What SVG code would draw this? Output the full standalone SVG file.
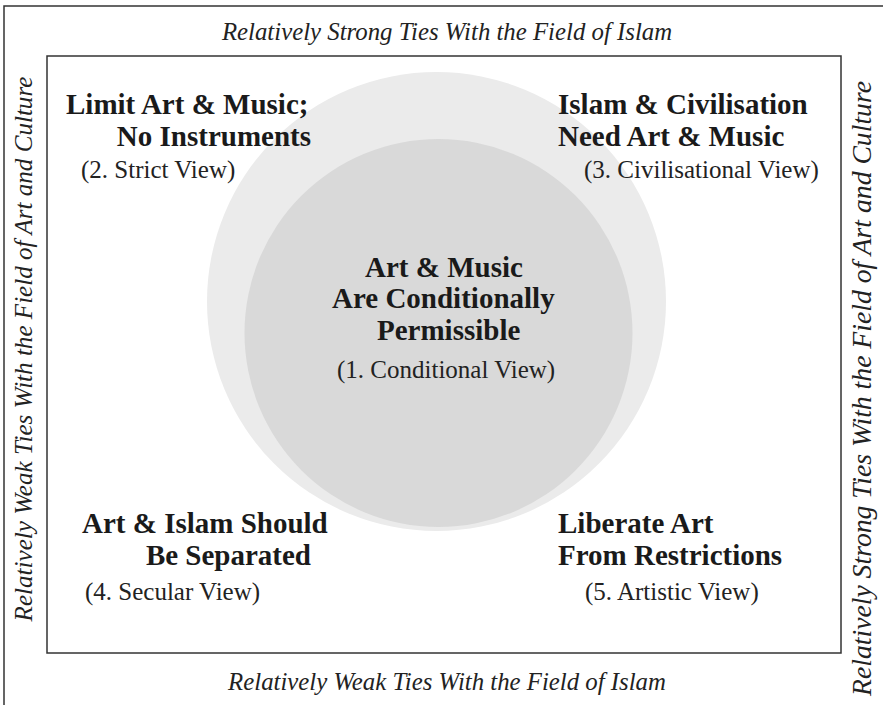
<svg xmlns="http://www.w3.org/2000/svg" width="883" height="705" viewBox="0 0 883 705">
  <style>
    .frame { fill: none; stroke: #333; stroke-width: 1.5; }
    .axis { font-family: "Liberation Serif", "Times New Roman", serif; font-style: italic; font-size: 24.8px; fill: #222; }
    .head { font-family: "Liberation Serif", "Times New Roman", serif; font-weight: bold; font-size: 29px; fill: #1a1a1a; }
    .sub { font-family: "Liberation Serif", "Times New Roman", serif; font-size: 25px; fill: #222; }
  </style>
  <rect width="883" height="705" fill="#fff"/>
  <!-- outer frame (only top and left edges fall inside the canvas) -->
  <rect class="frame" x="4" y="6" width="900" height="720"/>
  <!-- axis labels -->
  <g id="axis-labels">
    <text class="axis" x="447" y="40" text-anchor="middle">Relatively Strong Ties With the Field of Islam</text>
    <text class="axis" x="447" y="690" text-anchor="middle">Relatively Weak Ties With the Field of Islam</text>
    <text class="axis" transform="translate(32,349) rotate(-90)" text-anchor="middle" style="font-size:25.1px">Relatively Weak Ties With the Field of Art and Culture</text>
    <text class="axis" transform="translate(871,388.5) rotate(-90)" text-anchor="middle" style="font-size:27.7px">Relatively Strong Ties With the Field of Art and Culture</text>
  </g>
  <!-- inner frame -->
  <rect class="frame" x="47" y="56" width="794" height="597"/>
  <!-- circles -->
  <g id="circles">
    <circle cx="436.5" cy="301.5" r="229.5" fill="#ebebeb"/>
    <circle cx="438.5" cy="333" r="194" fill="#d9d9d9"/>
  </g>
  <g id="view-1">
    <text class="head" x="365" y="277">Art &amp; Music</text>
    <text class="head" x="332" y="308">Are Conditionally</text>
    <text class="head" x="377" y="340">Permissible</text>
    <text class="sub" x="337" y="378">(1. Conditional View)</text>
  </g>
  <g id="view-2">
    <text class="head" x="66" y="114">Limit Art &amp; Music;</text>
    <text class="head" x="311" y="146" text-anchor="end">No Instruments</text>
    <text class="sub" x="81" y="178">(2. Strict View)</text>
  </g>
  <g id="view-3">
    <text class="head" x="558" y="114">Islam &amp; Civilisation</text>
    <text class="head" x="558" y="146">Need Art &amp; Music</text>
    <text class="sub" x="584" y="178">(3. Civilisational View)</text>
  </g>
  <g id="view-4">
    <text class="head" x="82" y="533">Art &amp; Islam Should</text>
    <text class="head" x="311" y="565" text-anchor="end">Be Separated</text>
    <text class="sub" x="85" y="600">(4. Secular View)</text>
  </g>
  <g id="view-5">
    <text class="head" x="558" y="533">Liberate Art</text>
    <text class="head" x="558" y="565">From Restrictions</text>
    <text class="sub" x="585" y="600">(5. Artistic View)</text>
  </g>
</svg>
